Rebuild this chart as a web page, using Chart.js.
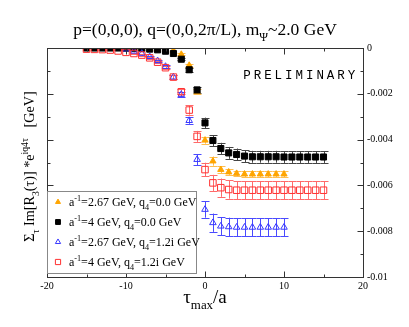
<!DOCTYPE html>
<html>
<head>
<meta charset="utf-8">
<script src="https://cdn.jsdelivr.net/npm/chart.js@4/dist/chart.umd.min.js"></script>
<style>
  html, body { margin: 0; padding: 0; background: #fff; }
  #wrap { width: 409px; height: 327px; }
</style>
</head>
<body>
<div id="wrap"><canvas id="c" width="409" height="327"></canvas></div>
<script>
// ---------- data ----------
const tauLong = [-15,-14,-13,-12,-11,-10,-9,-8,-7,-6,-5,-4,-3,-2,-1,0,1,2,3,4,5,6,7,8,9,10,11,12,13,14,15];
const tauShort = [-10,-9,-8,-7,-6,-5,-4,-3,-2,-1,0,1,2,3,4,5,6,7,8,9,10];

// a^-1=2.67 GeV, q4=0.0 GeV (orange filled triangles)
const orangeVals = [0,-0.00001,-0.00002,-0.00003,-0.00005,-0.00007,-0.00011,-0.00028,-0.00076,-0.0019,-0.00403,-0.00494,-0.00531,-0.00542,-0.00548,-0.00551,-0.00551,-0.00551,-0.00551,-0.00551,-0.00551];
const orangeErr  = [0.00001,0.00001,0.00001,0.00002,0.00002,0.00002,0.00003,0.00004,0.00006,0.0001,0.00015,0.0002,0.00015,0.00012,0.00012,0.00012,0.00012,0.00012,0.00012,0.00012,0.00012];

// a^-1=4 GeV, q4=0.0 GeV (black filled squares)
const blackVals = [0,0,0,0,0,-0.00001,-0.00001,-0.00002,-0.00005,-0.00008,-0.00014,-0.00024,-0.00049,-0.00095,-0.00183,-0.00327,-0.00404,-0.00439,-0.00458,-0.00465,-0.00472,-0.00475,-0.00475,-0.00475,-0.00475,-0.00476,-0.00476,-0.00476,-0.00476,-0.00476,-0.00476];
const blackErr  = [0.00001,0.00001,0.00001,0.00001,0.00001,0.00001,0.00001,0.00001,0.00002,0.00002,0.00002,0.00003,0.00005,0.00008,0.00012,0.00023,0.00024,0.00025,0.00026,0.00026,0.00026,0.00026,0.00026,0.00026,0.00026,0.00026,0.00026,0.00026,0.00026,0.00026,0.00026];

// a^-1=2.67 GeV, q4=1.2i GeV (blue open triangles)
const blueVals = [-0.00005,-0.00014,-0.00024,-0.00038,-0.00056,-0.00081,-0.00127,-0.00203,-0.00317,-0.00487,-0.00705,-0.00763,-0.00778,-0.00781,-0.00783,-0.00783,-0.00783,-0.00783,-0.00783,-0.00783,-0.00783];
const blueErr  = [0.00002,0.00003,0.00003,0.00004,0.00005,0.00006,0.00008,0.0001,0.00014,0.00024,0.00036,0.0004,0.0004,0.0004,0.0004,0.0004,0.0004,0.0004,0.0004,0.0004,0.0004];

// a^-1=4 GeV, q4=1.2i GeV (red open squares)
const redVals = [-0.00005,-0.00006,-0.00007,-0.00009,-0.00013,-0.00019,-0.00024,-0.00031,-0.00043,-0.00062,-0.00086,-0.00127,-0.00191,-0.00271,-0.00386,-0.00531,-0.00589,-0.0061,-0.00618,-0.00621,-0.00621,-0.00621,-0.00621,-0.00621,-0.00621,-0.00621,-0.00621,-0.00621,-0.00621,-0.00621,-0.00621];
const redErr  = [0.00002,0.00002,0.00002,0.00002,0.00002,0.00002,0.00004,0.00004,0.00004,0.00004,0.00006,0.00008,0.0001,0.0002,0.00024,0.0003,0.00035,0.0004,0.0004,0.0004,0.0004,0.0004,0.0004,0.0004,0.0004,0.0004,0.0004,0.0004,0.0004,0.0004,0.0004];

const xTicks = [-20,-10,0,10,20];
const yTicks = [0,-0.002,-0.004,-0.006,-0.008,-0.01];

const seriesLabels = [
  [{t:'a'},{t:'-1',s:'sup'},{t:'=2.67 GeV, q'},{t:'4',s:'sub'},{t:'=0.0 GeV'}],
  [{t:'a'},{t:'-1',s:'sup'},{t:'=4 GeV, q'},{t:'4',s:'sub'},{t:'=0.0 GeV'}],
  [{t:'a'},{t:'-1',s:'sup'},{t:'=2.67 GeV, q'},{t:'4',s:'sub'},{t:'=1.2i GeV'}],
  [{t:'a'},{t:'-1',s:'sup'},{t:'=4 GeV, q'},{t:'4',s:'sub'},{t:'=1.2i GeV'}]
];
const titleSegs = [{t:'p=(0,0,0), q=(0,0,2\u03C0/L), m'},{t:'\u03A8',s:'sub'},{t:'~2.0 GeV'}];
const yTitleSegs = [{t:'\u03A3'},{t:'\u03C4',s:'sub'},{t:' Im[R'},{t:'3',s:'sub'},{t:'(\u03C4)] *e'},{t:'iq4\u03C4',s:'sup'},{t:'   [GeV]'}];
const xTitleSegs = [{t:'\u03C4'},{t:'max',s:'sub'},{t:'/a'}];

// ---------- build ----------
function pts(xs, ys, es){ return xs.map((x,i)=>({x:x, y:ys[i], e:es[i]})); }

const SERIF = '"Liberation Serif", "Times New Roman", serif';

const datasets = [
  {label:'orange', data:pts(tauShort, orangeVals, orangeErr), pointStyle:'triangle', pointRadius:3.6,
   backgroundColor:'#ffa500', borderColor:'#ffa500', borderWidth:1, errColor:'#ffbe50'},
  {label:'black', data:pts(tauLong, blackVals, blackErr), pointStyle:'rect', pointRadius:4.3,
   backgroundColor:'#000000', borderColor:'#000000', borderWidth:1, errColor:'#444444'},
  {label:'blue', data:pts(tauShort, blueVals, blueErr), pointStyle:'triangle', pointRadius:3.8,
   backgroundColor:'rgba(0,0,0,0)', borderColor:'#3838ff', borderWidth:1, errColor:'#4a4aff'},
  {label:'red', data:pts(tauLong, redVals, redErr), pointStyle:'rect', pointRadius:4.6,
   backgroundColor:'rgba(0,0,0,0)', borderColor:'#ff3030', borderWidth:1, errColor:'#ff6a6a'}
];
// draw order: orange at bottom, red on top
const order = {orange:4, black:3, blue:2, red:1};
datasets.forEach(d=>{ d.order = order[d.label]; d.showLine=false; d.pointHoverRadius=d.pointRadius; });

function drawRich(ctx, segs, x, y, size, align){
  const subS = size*0.68;
  const parts = segs.map(p=>{
    const fs = p.s ? subS : size;
    ctx.font = fs+'px '+SERIF;
    return {t:p.t, s:p.s, fs:fs, w:ctx.measureText(p.t).width};
  });
  const total = parts.reduce((a,p)=>a+p.w,0);
  let cx = align==='center' ? x-total/2 : x;
  ctx.textAlign='left'; ctx.textBaseline='alphabetic';
  parts.forEach(p=>{
    ctx.font = p.fs+'px '+SERIF;
    let dy = 0;
    if(p.s==='sub') dy = size*0.32;
    if(p.s==='sup') dy = -size*0.42;
    ctx.fillText(p.t, cx, y+dy);
    cx += p.w;
  });
}

const decor = {
  id:'decor',
  beforeDatasetsDraw(chart){
    const ctx = chart.ctx, xs = chart.scales.x, ys = chart.scales.y;
    ctx.save();
    chart.data.datasets.slice().sort((a,b)=>b.order-a.order).forEach(ds=>{
      ctx.strokeStyle = ds.errColor; ctx.lineWidth = 1;
      ds.data.forEach(p=>{
        const px = Math.round(xs.getPixelForValue(p.x))+0.5;
        const y1 = ys.getPixelForValue(p.y+p.e), y2 = ys.getPixelForValue(p.y-p.e);
        if (y2-y1 < 1.5) return;
        ctx.beginPath();
        ctx.moveTo(px,y1); ctx.lineTo(px,y2);
        ctx.moveTo(px-4,Math.round(y1)+0.5); ctx.lineTo(px+4,Math.round(y1)+0.5);
        ctx.moveTo(px-4,Math.round(y2)+0.5); ctx.lineTo(px+4,Math.round(y2)+0.5);
        ctx.stroke();
      });
    });
    ctx.restore();
  },
  afterDraw(chart){
    const ctx = chart.ctx, xs = chart.scales.x, ys = chart.scales.y, a = chart.chartArea;
    ctx.save();
    // frame
    ctx.strokeStyle = '#333'; ctx.lineWidth = 1;
    const L = Math.round(a.left)+0.5, R = Math.round(a.right)+0.5, T = Math.round(a.top)+0.5, B = Math.round(a.bottom)+0.5;
    ctx.strokeRect(L, T, R-L, B-T);
    // ticks (inward) on all four sides
    ctx.beginPath();
    for(let v=-20; v<=20; v+=5){
      const len = (v%10===0)?6:3;
      const px = Math.round(xs.getPixelForValue(v))+0.5;
      ctx.moveTo(px,B); ctx.lineTo(px,B-len);
      ctx.moveTo(px,T); ctx.lineTo(px,T+len);
    }
    for(let k=0; k<=10; k++){
      const v = -k*0.001;
      const len = (k%2===0)?6:3;
      const py = Math.round(ys.getPixelForValue(v))+0.5;
      ctx.moveTo(L,py); ctx.lineTo(L+len,py);
      ctx.moveTo(R,py); ctx.lineTo(R-len,py);
    }
    ctx.stroke();

    // title
    ctx.fillStyle = '#000';
    drawRich(ctx, titleSegs, (a.left+a.right)/2, 35, 17.5, 'center');
    // x title
    drawRich(ctx, xTitleSegs, (a.left+a.right)/2, 303, 19, 'center');
    // y title
    ctx.save();
    ctx.translate(34, (a.top+a.bottom)/2 + 4);
    ctx.rotate(-Math.PI/2);
    drawRich(ctx, yTitleSegs, 0, 0, 14.2, 'center');
    ctx.restore();

    // PRELIMINARY
    ctx.font = '12.5px "Liberation Mono", "DejaVu Sans Mono", monospace';
    ctx.textBaseline = 'alphabetic'; ctx.textAlign='center';
    const word = 'PRELIMINARY';
    for(let i=0;i<word.length;i++){
      ctx.fillText(word[i], 247 + i*10.45, 78.5);
    }

    // legend
    const lx = L, ly = 191.5, lw = 149, lh = 82;
    ctx.fillStyle = '#fff';
    ctx.fillRect(lx, ly, lw, lh);
    ctx.strokeStyle = '#888';
    ctx.strokeRect(lx, ly, lw, lh);
    const rows = [202, 222, 242, 262];
    chart.data.datasets.forEach((ds,i)=>{
      const my = rows[i];
      const mx = 58;
      ctx.lineWidth = 1;
      ctx.fillStyle = ds.backgroundColor; ctx.strokeStyle = ds.borderColor;
      Chart.helpers.drawPoint(ctx, {pointStyle: ds.pointStyle, radius: ds.pointRadius*0.8, borderWidth:1}, mx, my);
      ctx.fillStyle = '#000';
      drawRich(ctx, seriesLabels[i], 69, my+4, 12, 'left');
    });
    ctx.restore();
  }
};

new Chart(document.getElementById('c'), {
  type:'scatter',
  data:{datasets:datasets},
  options:{
    responsive:false, animation:false, devicePixelRatio:1,
    layout:{padding:{left:47, top:48, right:0, bottom:0}},
    plugins:{legend:{display:false}, tooltip:{enabled:false}, title:{display:false}},
    scales:{
      x:{type:'linear', min:-20, max:20,
         afterBuildTicks(s){ s.ticks = xTicks.map(v=>({value:v})); },
         afterFit(s){ s.height = 50; },
         grid:{display:false, drawTicks:false}, border:{display:false},
         ticks:{padding:3, color:'#000', font:{family:SERIF, size:10}, maxRotation:0, autoSkip:false,
                callback:v=>String(v)}},
      y:{type:'linear', position:'right', min:-0.01, max:0,
         afterBuildTicks(s){ s.ticks = yTicks.map(v=>({value:v})); },
         afterFit(s){ s.width = 46; },
         grid:{display:false, drawTicks:false}, border:{display:false},
         ticks:{padding:4, color:'#000', font:{family:SERIF, size:10}, autoSkip:false,
                callback:v=>String(Number(v.toFixed(4)))}}
    }
  },
  plugins:[decor]
});
</script>
</body>
</html>
